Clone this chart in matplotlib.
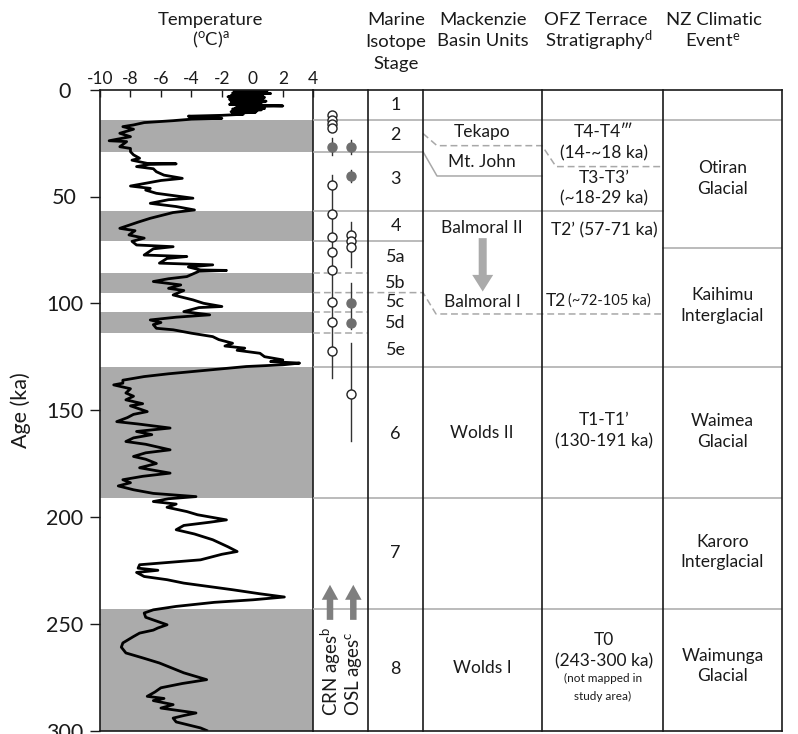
import matplotlib.pyplot as plt
from matplotlib.patches import FancyArrow

plt.rcParams['font.family'] = ['Lato', 'DejaVu Sans']
plt.rcParams['mathtext.fontset'] = 'custom'
plt.rcParams['mathtext.rm'] = 'Lato'
plt.rcParams['mathtext.it'] = 'Lato:italic'
plt.rcParams['axes.unicode_minus'] = False

# temperature record (age ka, deg C)
age_ka = [0.0, 0.25, 0.5, 0.75, 1.0, 1.3, 1.6, 1.8, 2.1, 2.4, 2.7, 3.0, 3.3, 3.6, 3.9,
          4.2, 4.5, 4.8, 5.1, 5.4, 5.7, 6.0, 6.3, 6.6, 6.9, 7.2, 7.6, 7.9, 8.2, 8.5,
          8.8, 9.1, 9.4, 9.7, 10.0, 10.3, 10.6, 11.0, 11.5, 12.0, 12.4, 13.0, 13.4,
          13.8, 14.5, 15.4, 16.5, 17.3, 18.5, 20.4, 22.0, 23.9, 24.3, 26.7, 27.5, 29.0,
          30.5, 32.1, 33.0, 34.5, 34.7, 35.0, 36.0, 37.0, 38.4, 40.0, 41.5, 42.5, 45.1,
          46.2, 47.0, 48.5, 50.8, 51.5, 53.2, 54.7, 56.3, 57.5, 60.2, 62.0, 64.9, 66.0,
          68.0, 69.5, 71.0, 72.7, 73.5, 74.5, 77.4, 78.1, 79.0, 81.2, 82.0, 83.0, 84.4,
          84.6, 85.0, 87.5, 88.5, 89.8, 91.4, 93.0, 94.0, 96.1, 98.4, 100.0, 101.5, 102.0,
          103.9, 105.4, 106.5, 107.8, 109.0, 110.0, 111.7, 112.4, 114.0, 115.6, 117.0,
          118.7, 120.0, 121.0, 122.0, 123.4, 125.0, 126.5, 127.3, 128.0, 128.8, 129.6,
          131.0, 133.0, 134.3, 136.0, 137.4, 138.2, 140.0, 142.0, 143.5, 145.2, 147.0,
          148.0, 150.7, 152.0, 153.5, 155.4, 156.5, 158.4, 160.0, 161.5, 163.0, 164.7,
          166.0, 168.6, 170.0, 171.7, 173.0, 175.0, 177.0, 179.5, 181.0, 182.6, 184.0,
          185.5, 187.3, 189.0, 190.5, 191.5, 192.8, 194.0, 195.5, 197.5, 199.0, 201.4,
          202.5, 204.0, 206.0, 208.0, 210.7, 212.0, 214.0, 216.2, 217.5, 220.1, 222.4,
          224.0, 225.0, 226.0, 227.9, 229.4, 231.0, 234.1, 236.0, 237.5, 238.8, 240.0,
          241.9, 243.5, 245.0, 247.0, 248.5, 250.5, 252.0, 253.0, 254.4, 256.0, 259.0,
          261.0, 263.7, 266.0, 268.4, 271.0, 273.0, 276.2, 278.0, 280.0, 282.0, 284.0,
          285.0, 286.0, 287.9, 289.5, 291.8, 293.0, 294.2, 296.0, 298.8, 300.0]
temp_c = [-0.5, 1.0, -1.2, 0.6, -0.9, 0.9, -1.3, 1.2, -1.0, 0.5, -1.4, 0.7, -1.6, 0.8,
          -1.2, 0.6, -1.5, 0.7, -0.8, 0.9, -1.4, 0.6, -1.2, 0.5, -1.5, 0.4, 2.0, -0.6,
          0.7, -1.1, 0.8, -1.3, 0.6, -0.9, 0.3, -1.4, 0.2, -1.3, -0.6, -2.0, -4.2, -3.2,
          -2.0, -4.0, -5.2, -7.1, -7.8, -8.5, -7.8, -8.7, -8.0, -9.4, -8.25, -8.7, -8.0,
          -8.0, -7.8, -7.4, -7.9, -6.9, -5.0, -6.8, -7.6, -6.5, -6.3, -5.8, -4.6, -6.0,
          -8.0, -6.7, -7.0, -6.3, -3.9, -5.5, -6.7, -5.0, -3.8, -5.2, -6.7, -7.5, -8.7,
          -7.7, -8.1, -7.1, -7.9, -7.6, -5.2, -6.5, -7.1, -4.3, -5.6, -6.1, -2.6, -4.2,
          -3.4, -1.7, -3.5, -4.3, -5.5, -6.5, -4.7, -5.5, -4.5, -5.2, -3.9, -3.2, -2.0,
          -3.5, -4.5, -2.8, -5.0, -6.7, -6.0, -6.5, -6.3, -5.2, -4.0, -2.6, -2.2,
          -1.3, -1.8, -0.5, -1.0, 0.5, 0.8, 2.0, 1.2, 3.1, 2.0, -0.4,
          -2.5, -5.5, -7.1, -8.5, -8.5, -9.1, -8.0, -8.3, -7.8, -8.3, -7.2,
          -8.0, -6.9, -7.8, -8.2, -8.9, -7.5, -5.4, -7.6, -6.6, -7.8, -8.3,
          -7.0, -5.4, -7.0, -7.8, -7.0, -6.3, -7.4, -5.4, -7.2, -8.5, -8.0,
          -8.8, -7.8, -6.5, -3.7, -5.5, -6.5, -5.0, -5.6, -4.3, -3.6, -1.7,
          -2.8, -4.5, -5.0, -3.8, -2.6, -2.2, -1.6, -1.0, -2.0, -3.4, -7.4,
          -7.5, -6.2, -7.6, -7.1, -5.6, -4.5, -1.3, 0.5, 2.1, 0.06, -2.5,
          -5.0, -6.5, -7.1, -7.0, -6.4, -5.6, -6.2, -6.5, -7.4, -7.8, -8.5,
          -8.6, -8.3, -7.2, -6.1, -5.2, -4.5, -3.0, -4.6, -6.0, -6.4, -6.9,
          -5.8, -6.5, -5.2, -6.0, -3.7, -4.5, -5.2, -5.0, -3.4, -3.0]

# glacial / stadial shading (ka)
shade_start = [14, 57, 86, 104, 130, 243]
shade_end = [29, 71, 95, 114, 191, 300]

# marine isotope stages
mis_labels = ['1', '2', '3', '4', '5a', '5b', '5c', '5d', '5e', '6', '7', '8']
mis_label_age = [7, 21, 42, 64, 78.5, 90.3, 99.2, 109, 122, 161, 217, 271]

# dating results (ka)
crn_open = [12, 14, 16, 18, 44.6, 58.4, 68.8, 76, 84.4, 99.5, 108.6, 122.3]
crn_filled = [26.7]
crn_ranges = [(22.7, 30.6), (40, 134.8)]
osl_open = [68, 70.8, 73.5, 142.4]
osl_filled = [26.7, 40.2, 100, 109]
osl_ranges = [(23.5, 30), (37.5, 43), (61.8, 82.8), (90.6, 112), (118.5, 164.7)]

# text blocks: (text, age)
mackenzie_units = [('Tekapo', 20), ('Mt. John', 33.7), ('Balmoral II', 64.9),
                   ('Balmoral I', 99.2), ('Wolds II', 160.8), ('Wolds I', 270.8)]
ofz_terraces = [('T4-T4\u2034', 20), ('(14-~18 ka)', 29.8), ('T3-T3\u2019', 41.5),
                ('(~18-29 ka)', 50.8), ('T2\u2019 (57-71 ka)', 65.7),
                ('T1-T1\u2019', 154.6), ('(130-191 ka)', 164.7),
                ('T0', 257.5), ('(243-300 ka)', 267.7)]
nz_events = [('Otiran\nGlacial', 41.7), ('Kaihimu\nInterglacial', 101),
             ('Waimea\nGlacial', 160), ('Karoro\nInterglacial', 216.5),
             ('Waimunga\nGlacial', 269.8)]

W, H = 798, 734
TOP, BOT = 89.7, 730.5
fig = plt.figure(figsize=(W / 100, H / 100), dpi=100)

def fx(px):
    return px / W

def fy(py):
    return 1 - py / H

ink = '#1a1a1a'
gline = '#a8a8a8'
shade = '#ababab'

# ---- temperature panel
ax = fig.add_axes([fx(100), fy(BOT), (313.3 - 100) / W, (BOT - TOP) / H])
for a, b in zip(shade_start, shade_end):
    ax.axhspan(a, b, color=shade, lw=0, zorder=0)
ax.plot(temp_c, age_ka, color='k', lw=2.0, zorder=2)
ax.set_xlim(-10, 4)
ax.set_ylim(300, 0)
ax.xaxis.tick_top()
ax.set_xticks(range(-10, 5, 2))
ax.set_yticks(range(0, 301, 50))
ax.tick_params(axis='x', direction='in', length=5, width=1, labelsize=12.5, pad=2, colors=ink)
ax.tick_params(axis='y', direction='out', length=7, width=1, labelsize=15.5, pad=18.5, colors=ink)
for lab in ax.get_yticklabels():
    lab.set_horizontalalignment('center')
for sp in ax.spines.values():
    sp.set_linewidth(1.2)
    sp.set_color(ink)
fig.text(fx(21), fy(410), 'Age (ka)', rotation=90, ha='center', va='center', fontsize=15.5, color=ink)

# ---- table panel
tab = fig.add_axes([fx(313.3), fy(BOT), (782 - 313.3) / W, (BOT - TOP) / H])
tab.set_xlim(313.3, 782)
tab.set_ylim(300, 0)
tab.axis('off')

cols = [368, 423, 542, 663, 782]
for c in cols:
    tab.plot([c, c], [0, 300], color=ink, lw=1.2, clip_on=False, zorder=3)
tab.plot([313.3, 782], [0, 0], color=ink, lw=1.2, clip_on=False, zorder=3)
tab.plot([313.3, 782], [300, 300], color=ink, lw=1.2, clip_on=False, zorder=3)

for y in [14, 130, 191, 243]:
    tab.plot([313.3, 782], [y, y], color=gline, lw=1.1)
tab.plot([313.3, 423], [29, 29], color=gline, lw=1.1)
tab.plot([313.3, 423], [71, 71], color=gline, lw=1.1)
tab.plot([313.3, 663], [57, 57], color=gline, lw=1.1)
tab.plot([663, 782], [74, 74], color=gline, lw=1.1)
dash = (0, (4.5, 2.5))
for y in [86, 104, 114]:
    tab.plot([313.3, 368], [y, y], color=gline, lw=1.1, ls=dash)
tab.plot([313.3, 423, 436, 663], [95, 95, 105, 105], color=gline, lw=1.1, ls=dash)
tab.plot([423, 437, 542, 556, 663], [20.5, 26.2, 26.2, 36, 36], color=gline, lw=1.1, ls=dash)
tab.plot([423, 437, 542], [29, 40.4, 40.4], color=gline, lw=1.1)

# dating columns
crn_x, osl_x = 332, 350.5
for a, b in crn_ranges:
    tab.plot([crn_x, crn_x], [a, b], color='#333333', lw=1.0, zorder=4)
for a, b in osl_ranges:
    tab.plot([osl_x, osl_x], [a, b], color='#333333', lw=1.0, zorder=4)
tab.plot([crn_x] * len(crn_open), crn_open, 'o', ms=6.5, mfc='white', mec='#222222', mew=1.0, ls='none', zorder=5)
tab.plot([crn_x] * len(crn_filled), crn_filled, 'o', ms=6.5, mfc='#6e6e6e', mec='#6e6e6e', ls='none', zorder=5)
tab.plot([osl_x] * len(osl_open), osl_open, 'o', ms=6.5, mfc='white', mec='#222222', mew=1.0, ls='none', zorder=5)
tab.plot([osl_x] * len(osl_filled), osl_filled, 'o', ms=6.5, mfc='#6e6e6e', mec='#6e6e6e', ls='none', zorder=5)

for x in [330, 353.3]:
    tab.add_patch(FancyArrow(x, 248.2, 0, -16.4, width=6.5, head_width=16.5, head_length=7,
                             length_includes_head=True, color='#7f7f7f', lw=0, zorder=4))
tab.text(331, 293, 'CRN ages$^{\\mathrm{b}}$', rotation=90, ha='center', va='bottom', fontsize=13.5, color=ink)
tab.text(354, 293, 'OSL ages$^{\\mathrm{c}}$', rotation=90, ha='center', va='bottom', fontsize=13.5, color=ink)

# MIS
for s, a in zip(mis_labels, mis_label_age):
    tab.text(395.7, a, s, ha='center', va='center', fontsize=13, color=ink)

# Mackenzie basin units
for s, a in mackenzie_units:
    tab.text(482, a, s, ha='center', va='center', fontsize=12.5, color=ink)
tab.add_patch(FancyArrow(482.7, 69.5, 0, 25, width=8, head_width=21, head_length=7.8,
                         length_includes_head=True, color='#aaaaaa', lw=0, zorder=4))

# OFZ terraces
for s, a in ofz_terraces:
    tab.text(604, a, s, ha='center', va='center', fontsize=12.5, color=ink)
tab.text(566, 98.9, 'T2', ha='right', va='center', fontsize=12.5, color=ink)
tab.text(568, 98.9, '(~72-105 ka)', ha='left', va='center', fontsize=10.5, color=ink)
tab.text(603, 275.8, '(not mapped in', ha='center', va='center', fontsize=8.5, color=ink)
tab.text(603, 284, 'study area)', ha='center', va='center', fontsize=8.5, color=ink)

# NZ climatic events
for s, a in nz_events:
    tab.text(722.5, a, s, ha='center', va='center', fontsize=12.5, color=ink, linespacing=1.35)

# ---- headers
hs = 13.3
fig.text(fx(210), fy(20), 'Temperature', ha='center', va='center', fontsize=hs, color=ink)
fig.text(fx(211), fy(40), '($^{\\mathrm{o}}$C)$^{\\mathrm{a}}$', ha='center', va='center', fontsize=hs, color=ink)
for i, s in enumerate(['Marine', 'Isotope', 'Stage']):
    fig.text(fx(396), fy(20 + 22 * i), s, ha='center', va='center', fontsize=hs, color=ink)
for i, s in enumerate(['Mackenzie', 'Basin Units']):
    fig.text(fx(483), fy(20 + 21 * i), s, ha='center', va='center', fontsize=hs, color=ink)
fig.text(fx(596), fy(20), 'OFZ Terrace', ha='center', va='center', fontsize=hs, color=ink)
fig.text(fx(599), fy(41), 'Stratigraphy$^{\\mathrm{d}}$', ha='center', va='center', fontsize=hs, color=ink)
fig.text(fx(714), fy(20), 'NZ Climatic', ha='center', va='center', fontsize=hs, color=ink)
fig.text(fx(713), fy(41), 'Event$^{\\mathrm{e}}$', ha='center', va='center', fontsize=hs, color=ink)

fig.savefig('out.png', dpi=100)
